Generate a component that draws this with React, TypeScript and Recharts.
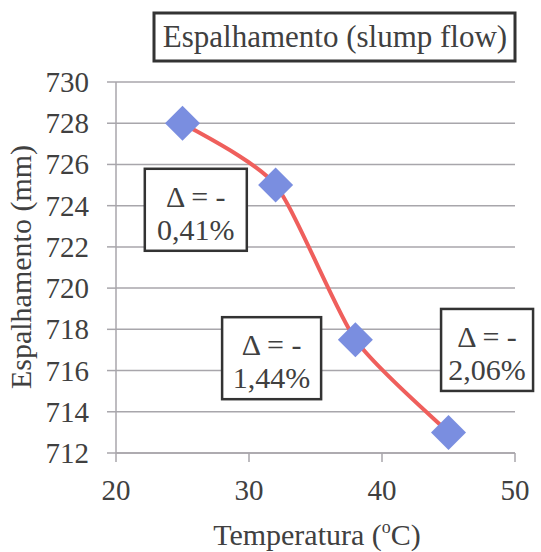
import { LineChart, Line, XAxis, YAxis, CartesianGrid, ReferenceDot } from 'recharts';

const temperatures = [25, 32, 38, 45];
const slumpFlow = [728, 725, 717.5, 713];
const xTicks = [20, 30, 40, 50];
const yTicks = [712, 714, 716, 718, 720, 722, 724, 726, 728, 730];

const noteTop = ['Δ = -', 'Δ = -', 'Δ = -'];
const noteBottom = ['0,41%', '1,44%', '2,06%'];

// where each annotation box sits, in data units
const noteX = [26.0, 31.7, 47.9];
const noteY = [723.8, 716.6, 717.0];
const noteW = [102, 99, 92];

const FONT = '"Liberation Serif", "Times New Roman", serif';
const TEXT = '#404040';
const GRID = '#a8a6ab';

const data = temperatures.map((t, i) => ({ t, v: slumpFlow[i] }));

// Excel-like smoothed line (bezier through the points, mild tension)
const smoothCurve = (ctx: any) => {
  let pts: number[][] = [];
  return {
    areaStart() {},
    areaEnd() {},
    lineStart() {
      pts = [];
    },
    point(x: number, y: number) {
      pts.push([+x, +y]);
    },
    lineEnd() {
      if (!pts.length) return;
      ctx.moveTo(pts[0][0], pts[0][1]);
      for (let i = 0; i < pts.length - 1; i++) {
        const p0 = pts[i - 1] || pts[i];
        const p1 = pts[i];
        const p2 = pts[i + 1];
        const p3 = pts[i + 2] || p2;
        const k = 9;
        ctx.bezierCurveTo(
          p1[0] + (p2[0] - p0[0]) / k,
          p1[1] + (p2[1] - p0[1]) / k,
          p2[0] - (p3[0] - p1[0]) / k,
          p2[1] - (p3[1] - p1[1]) / k,
          p2[0],
          p2[1]
        );
      }
    },
  };
};

function Diamond(props: any) {
  const { cx, cy } = props;
  if (cx == null || cy == null) return null;
  const h = 17.5;
  return (
    <polygon
      points={`${cx},${cy - h} ${cx + h},${cy} ${cx},${cy + h} ${cx - h},${cy}`}
      fill="#7a8ee0"
    />
  );
}

function NoteBox(props: any) {
  const { cx, cy, idx } = props;
  const w = noteW[idx];
  const h = 82;
  return (
    <g>
      <rect x={cx - w / 2} y={cy - h / 2} width={w} height={h} fill="#fff" stroke="#333" strokeWidth={2.5} />
      <text x={cx} y={cy - 3} textAnchor="middle" fontFamily={FONT} fontSize={30} fill={TEXT}>
        {noteTop[idx]}
      </text>
      <text x={cx} y={cy + 30} textAnchor="middle" fontFamily={FONT} fontSize={30} fill={TEXT}>
        {noteBottom[idx]}
      </text>
    </g>
  );
}

function XTick(props: any) {
  const { x, y, payload } = props;
  return (
    <text x={x} y={y + 20} textAnchor="middle" fontFamily={FONT} fontSize={29} fill={TEXT}>
      {payload.value}
    </text>
  );
}

function YTick(props: any) {
  const { x, y, payload } = props;
  return (
    <text x={x} y={y + 10} textAnchor="end" fontFamily={FONT} fontSize={29} fill={TEXT}>
      {payload.value}
    </text>
  );
}

export default function App() {
  return (
    <div style={{ position: 'absolute', left: 0, top: 0, width: 541, height: 552, background: '#fff' }}>
      <LineChart width={541} height={552} data={data} margin={{ top: 82, right: 26, bottom: 0, left: 0 }}>
        <CartesianGrid vertical={false} stroke={GRID} strokeWidth={1.5} />
        <XAxis
          type="number"
          dataKey="t"
          domain={[20, 50]}
          ticks={xTicks}
          height={99}
          tickSize={9}
          tickMargin={18}
          axisLine={{ stroke: GRID, strokeWidth: 1.5 }}
          tickLine={{ stroke: GRID, strokeWidth: 1.5 }}
          tick={(p: any) => <XTick {...p} />}
        />
        <YAxis
          type="number"
          domain={[712, 730]}
          ticks={yTicks}
          width={116}
          tickSize={9}
          tickMargin={18}
          axisLine={{ stroke: GRID, strokeWidth: 1.5 }}
          tickLine={{ stroke: GRID, strokeWidth: 1.5 }}
          tick={(p: any) => <YTick {...p} />}
        />
        <Line
          dataKey="v"
          type={smoothCurve as any}
          stroke="#ef5f5c"
          strokeWidth={4}
          dot={(p: any) => <Diamond key={`d-${p.index}`} {...p} />}
          activeDot={false}
          isAnimationActive={false}
        />
        {noteTop.map((_, i) => (
          <ReferenceDot
            key={`n-${i}`}
            x={noteX[i]}
            y={noteY[i]}
            ifOverflow="visible"
            shape={(p: any) => <NoteBox {...p} idx={i} />}
          />
        ))}
      </LineChart>
      <svg width={541} height={552} style={{ position: 'absolute', left: 0, top: 0, pointerEvents: 'none' }}>
        <rect x={154} y={13} width={361} height={48} fill="#fff" stroke="#333" strokeWidth={3} />
        <text x={335} y={47} textAnchor="middle" fontFamily={FONT} fontSize={31} fill={TEXT}>
          Espalhamento (slump flow)
        </text>
        <text
          x={31}
          y={267}
          textAnchor="middle"
          fontFamily={FONT}
          fontSize={30}
          fill={TEXT}
          transform="rotate(-90, 31, 267)"
        >
          Espalhamento (mm)
        </text>
        <text x={317} y={545} textAnchor="middle" fontFamily={FONT} fontSize={30} fill={TEXT}>
          Temperatura (<tspan fontSize={18} dy={-12}>o</tspan>
          <tspan dy={12}>C)</tspan>
        </text>
      </svg>
    </div>
  );
}
